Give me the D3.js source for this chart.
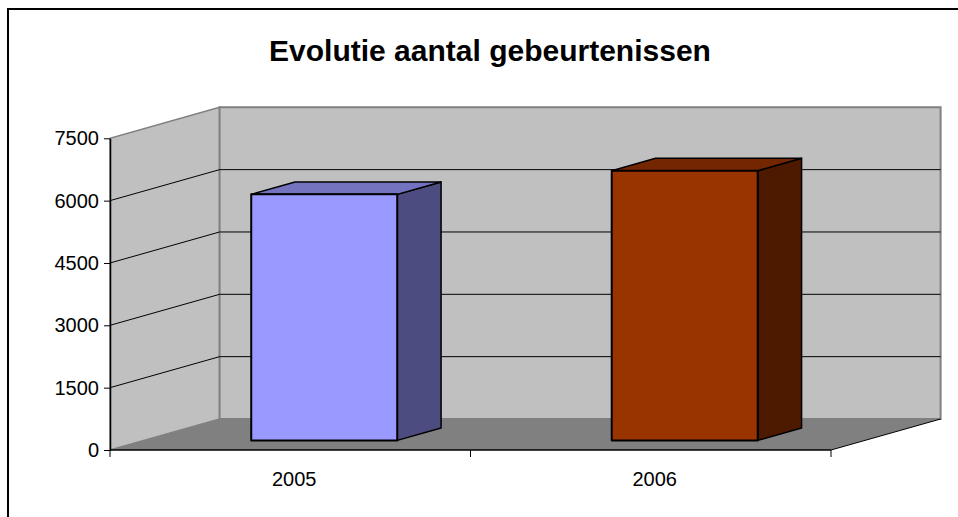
<!DOCTYPE html>
<html>
<head>
<meta charset="utf-8">
<script src="https://cdn.jsdelivr.net/npm/d3@7"></script>
<style>
  body { margin: 0; background: #fff; }
  svg { display: block; }
</style>
</head>
<body>
<script>
'use strict';

const title = 'Evolutie aantal gebeurtenissen';
const categories = ['2005', '2006'];
const values = [5920, 6490];
const yTicks = [0, 1500, 3000, 4500, 6000, 7500];
const frontColors = ['#9999FF', '#993300'];
const topColors = ['#7373BF', '#732600'];
const sideColors = ['#4C4C80', '#4D1A00'];

const width = 958, height = 517;

// front plane of the 3d box, depth goes up-right
const plot = { left: 110, right: 831, bottom: 450, top: 138.3 };
const depth = { dx: 109.6, dy: 31 };
const barZ = [0.31, 0.71];

const svg = d3.select('body')
  .append('svg')
  .attr('width', width)
  .attr('height', height);

// outer frame (right/bottom edges fall outside the picture)
svg.append('rect')
  .attr('x', 8).attr('y', 9)
  .attr('width', 1000).attr('height', 1000)
  .attr('fill', 'none')
  .attr('stroke', '#000')
  .attr('stroke-width', 2);

const x = d3.scaleBand()
  .domain(categories)
  .range([plot.left, plot.right]);

const y = d3.scaleLinear()
  .domain([0, 7500])
  .range([plot.bottom, plot.top]);

const proj = (px, py, z) => [px + z * depth.dx, py - z * depth.dy];
const poly = pts => 'M' + pts.map(p => p.join(',')).join('L') + 'Z';

const g = svg.append('g');

// floor
g.append('path')
  .attr('d', poly([
    proj(plot.left, y(0), 0), proj(plot.right, y(0), 0),
    proj(plot.right, y(0), 1), proj(plot.left, y(0), 1)
  ]))
  .attr('fill', '#808080');

// left wall
g.append('path')
  .attr('d', poly([
    proj(plot.left, y(0), 0), proj(plot.left, y(7500), 0),
    proj(plot.left, y(7500), 1), proj(plot.left, y(0), 1)
  ]))
  .attr('fill', '#c0c0c0')
  .attr('stroke', '#808080')
  .attr('stroke-width', 1.5);

// back wall
g.append('path')
  .attr('d', poly([
    proj(plot.left, y(0), 1), proj(plot.left, y(7500), 1),
    proj(plot.right, y(7500), 1), proj(plot.right, y(0), 1)
  ]))
  .attr('fill', '#c0c0c0')
  .attr('stroke', '#808080')
  .attr('stroke-width', 2);

// gridlines
const grid = yTicks.filter(v => v > 0 && v < 7500);
g.selectAll('.grid')
  .data(grid)
  .enter()
  .append('path')
  .attr('class', 'grid')
  .attr('d', v => 'M' + [
    proj(plot.left, y(v), 0), proj(plot.left, y(v), 1), proj(plot.right, y(v), 1)
  ].map(p => p.join(',')).join('L'))
  .attr('fill', 'none')
  .attr('stroke', '#000')
  .attr('stroke-width', 1);

// floor right edge
g.append('line')
  .attr('x1', proj(plot.right, y(0), 0)[0]).attr('y1', proj(plot.right, y(0), 0)[1])
  .attr('x2', proj(plot.right, y(0), 1)[0]).attr('y2', proj(plot.right, y(0), 1)[1])
  .attr('stroke', '#000');

// bars
const bars = g.selectAll('.bar')
  .data(categories)
  .enter()
  .append('g')
  .attr('class', 'bar');

const halfW = x.bandwidth() * 0.405 / 2;
const barPts = (c, i) => {
  const cx = x(c) + x.bandwidth() / 2;
  const x0 = cx - halfW, x1 = cx + halfW;
  const yb = y(0), yt = y(values[i]);
  return {
    front: [proj(x0, yb, barZ[0]), proj(x0, yt, barZ[0]), proj(x1, yt, barZ[0]), proj(x1, yb, barZ[0])],
    top: [proj(x0, yt, barZ[0]), proj(x0, yt, barZ[1]), proj(x1, yt, barZ[1]), proj(x1, yt, barZ[0])],
    side: [proj(x1, yb, barZ[0]), proj(x1, yt, barZ[0]), proj(x1, yt, barZ[1]), proj(x1, yb, barZ[1])]
  };
};

bars.append('path')
  .attr('d', (c, i) => poly(barPts(c, i).side))
  .attr('fill', (c, i) => sideColors[i])
  .attr('stroke', '#000')
  .attr('stroke-width', 1.5)
  .attr('stroke-linejoin', 'round');

bars.append('path')
  .attr('d', (c, i) => poly(barPts(c, i).top))
  .attr('fill', (c, i) => topColors[i])
  .attr('stroke', '#000')
  .attr('stroke-width', 1.5)
  .attr('stroke-linejoin', 'round');

bars.append('path')
  .attr('d', (c, i) => poly(barPts(c, i).front))
  .attr('fill', (c, i) => frontColors[i])
  .attr('stroke', '#000')
  .attr('stroke-width', 2)
  .attr('stroke-linejoin', 'round');

// y axis
const yAxis = svg.append('g')
  .attr('transform', `translate(${plot.left},0)`)
  .call(d3.axisLeft(y).tickValues(yTicks).tickFormat(d3.format('d'))
    .tickSize(6).tickPadding(5).tickSizeOuter(0));
yAxis.select('.domain').attr('stroke', '#000').attr('stroke-width', 1.5);
yAxis.selectAll('text')
  .attr('font-family', 'Liberation Sans, Arial, sans-serif')
  .attr('font-size', 20)
  .attr('fill', '#000');

// x axis: ticks sit at category boundaries
const xAxis = svg.append('g')
  .attr('transform', `translate(0,${plot.bottom})`);
xAxis.append('line')
  .attr('x1', plot.left).attr('x2', plot.right)
  .attr('stroke', '#000').attr('stroke-width', 1.5);
const bounds = categories.map(c => x(c)).concat([x.range()[1]]);
xAxis.selectAll('.tick')
  .data(bounds)
  .enter()
  .append('line')
  .attr('x1', d => d).attr('x2', d => d)
  .attr('y1', 0).attr('y2', 7)
  .attr('stroke', '#000');
xAxis.selectAll('.label')
  .data(categories)
  .enter()
  .append('text')
  .attr('x', c => x(c) + x.bandwidth() / 2 + 4)
  .attr('y', 36)
  .attr('text-anchor', 'middle')
  .attr('font-family', 'Liberation Sans, Arial, sans-serif')
  .attr('font-size', 20)
  .text(c => c);

// title
svg.append('text')
  .attr('x', 490)
  .attr('y', 61)
  .attr('text-anchor', 'middle')
  .attr('font-family', 'Liberation Sans, Arial, sans-serif')
  .attr('font-weight', 'bold')
  .attr('font-size', 30)
  .text(title);
</script>
</body>
</html>
